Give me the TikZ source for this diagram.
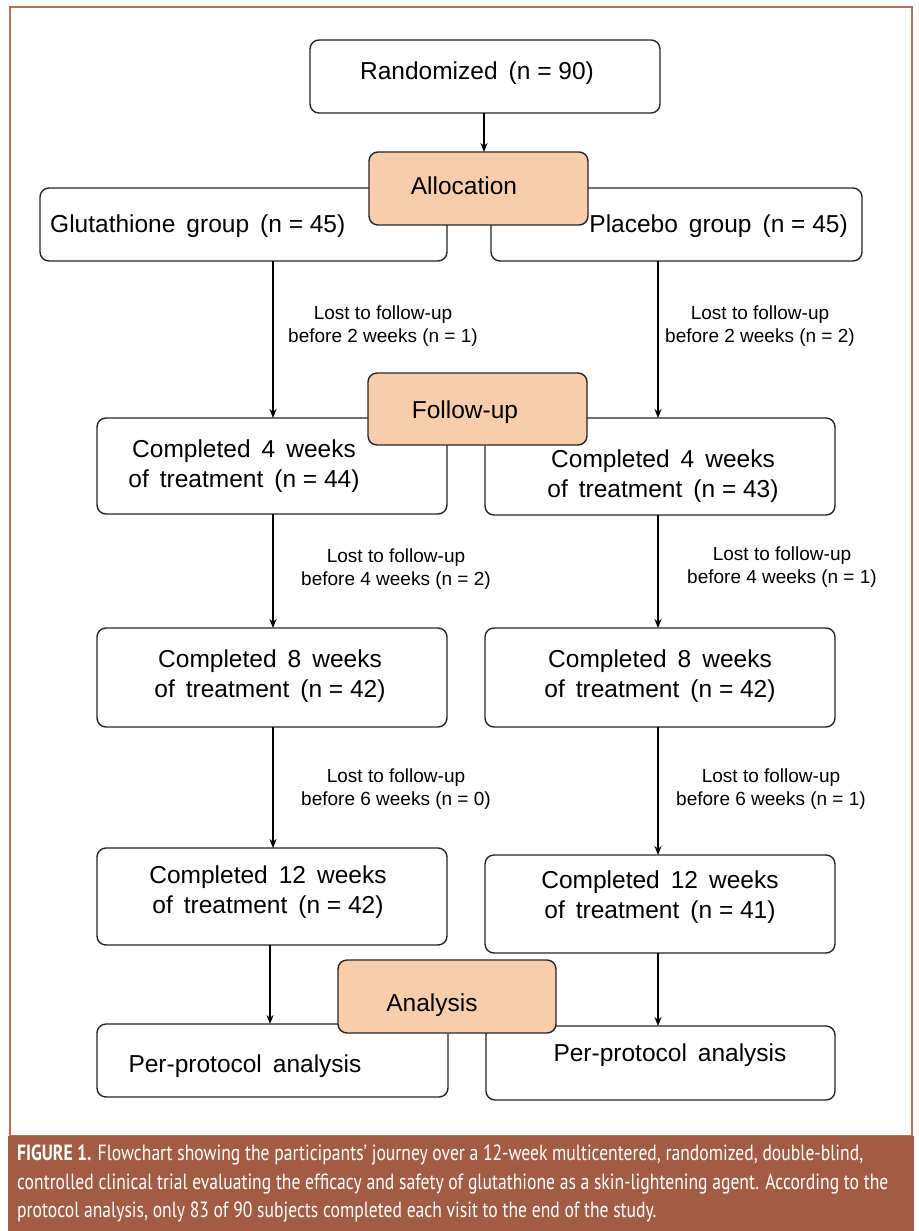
\documentclass[tikz,border=0pt]{standalone}
\usepackage{fontspec}
\setmainfont{Liberation Sans}
\newfontfamily\capfont[FakeStretch=0.8]{PT Sans}
\usetikzlibrary{arrows.meta}
\definecolor{peach}{HTML}{F9CDAC}
\definecolor{band}{HTML}{A15C43}
\definecolor{framec}{HTML}{B8705A}
\newcommand\wsp{\hspace{0.45em}}
\tikzset{
  box/.style={draw=black!85, line width=1.4pt, rounded corners=9pt, fill=white},
  stage/.style={box, fill=peach},
  btxt/.style={font=\fontsize{24.5}{30}\selectfont, align=center, inner sep=0pt},
  ltxt/.style={font=\fontsize{19}{23}\selectfont, align=center, inner sep=0pt},
  arr/.style={line width=2pt, -{Stealth[length=9pt,width=7pt]}}
}
\begin{document}
\begin{tikzpicture}[x=1pt,y=-1pt]
\useasboundingbox (0,0) rectangle (918,1231);
\fill[white] (0,0) rectangle (918,1231);
\draw[framec, line width=1.2pt] (10,7) rectangle (912,1136);
\fill[band] (8,1136) rectangle (914,1231);
% top
\draw[box] (310,40) rectangle (660,113);
\node[btxt] (rand) at (477,73) {Randomized\wsp(n = 90)};
\coordinate (randb) at (484,113);
% groups
\draw[box] (40,188) rectangle (447,261);
\node[btxt, anchor=west] (glu) at (50,226) {Glutathione\wsp group\wsp(n = 45)};
\draw[box] (491,188) rectangle (862,261);
\node[btxt, anchor=east] (pla) at (848,226) {Placebo\wsp group\wsp(n = 45)};
\draw[stage] (369,152) rectangle (588,225);
\node[btxt] (alloc) at (464,186) {Allocation};
\coordinate (alloct) at (484,152);
\draw[arr] (randb) -- (alloct);
% week 4
\draw[box] (97,418) rectangle (447,514);
\node[btxt] (l4) at (244,466) {Completed\wsp 4\wsp weeks\\of\wsp treatment\wsp(n = 44)};
\draw[box] (485,418) rectangle (835,515);
\node[btxt] (r4) at (663,476) {Completed\wsp 4\wsp weeks\\of\wsp treatment\wsp(n = 43)};
\draw[stage] (368,373) rectangle (587,445);
\node[btxt] (fu) at (465,412) {Follow-up};
% week 8
\draw[box] (97,628) rectangle (447,727);
\node[btxt] (l8) at (270,676) {Completed\wsp 8\wsp weeks\\of\wsp treatment\wsp(n = 42)};
\draw[box] (485,628) rectangle (835,727);
\node[btxt] (r8) at (660,676) {Completed\wsp 8\wsp weeks\\of\wsp treatment\wsp(n = 42)};
% week 12
\draw[box] (97,848) rectangle (447,945);
\node[btxt] (l12) at (268,892) {Completed\wsp 12\wsp weeks\\of\wsp treatment\wsp(n = 42)};
\draw[box] (485,855) rectangle (835,953);
\node[btxt] (r12) at (660,897) {Completed\wsp 12\wsp weeks\\of\wsp treatment\wsp(n = 41)};
% analysis
\draw[box] (97,1024) rectangle (448,1097);
\node[btxt] (lpp) at (245,1066) {Per-protocol\wsp analysis};
\draw[box] (486,1026) rectangle (835,1100);
\node[btxt] (rpp) at (670,1055) {Per-protocol\wsp analysis};
\draw[stage] (338,960) rectangle (556,1033);
\node[btxt] (ana) at (432,1005) {Analysis};
% connectors
\coordinate (a1) at (273,261); \coordinate (a2) at (273,418);
\coordinate (b1) at (658,261); \coordinate (b2) at (658,418);
\coordinate (a3) at (273,514); \coordinate (a4) at (273,628);
\coordinate (b3) at (658,515); \coordinate (b4) at (658,628);
\coordinate (a5) at (273,727); \coordinate (a6) at (273,848);
\coordinate (b5) at (658,727); \coordinate (b6) at (658,855);
\coordinate (a7) at (270,945); \coordinate (a8) at (270,1024);
\coordinate (b7) at (658,953); \coordinate (b8) at (658,1026);
\draw[arr] (a1) -- (a2);
\draw[arr] (b1) -- (b2);
\draw[arr] (a3) -- (a4);
\draw[arr] (b3) -- (b4);
\draw[arr] (a5) -- (a6);
\draw[arr] (b5) -- (b6);
\draw[arr] (a7) -- (a8);
\draw[arr] (b7) -- (b8);
% labels
\node[ltxt] (la1) at (383,326) {Lost to follow-up\\before 2 weeks (n = 1)};
\node[ltxt] (lb1) at (760,326) {Lost to follow-up\\before 2 weeks (n = 2)};
\node[ltxt] (la2) at (396,569) {Lost to follow-up\\before 4 weeks (n = 2)};
\node[ltxt] (lb2) at (782,567) {Lost to follow-up\\before 4 weeks (n = 1)};
\node[ltxt] (la3) at (396,789) {Lost to follow-up\\before 6 weeks (n = 0)};
\node[ltxt] (lb3) at (771,789) {Lost to follow-up\\before 6 weeks (n = 1)};
% caption
\node[anchor=north west, inner sep=0pt, align=left, text=white,
  font=\capfont\fontsize{22}{28.5}\selectfont] (cap) at (17,1145)
  {\textbf{FIGURE 1.} Flowchart showing the participants’ journey over a 12-week multicentered, randomized, double-blind,\\
   controlled clinical trial evaluating the efficacy and safety of glutathione as a skin-lightening agent. According to the\\
   protocol analysis, only 83 of 90 subjects completed each visit to the end of the study.};
\end{tikzpicture}
\end{document}
